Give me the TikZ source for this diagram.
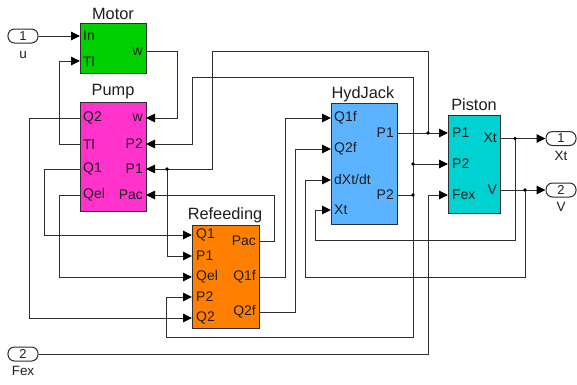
\documentclass[tikz,border=0pt]{standalone}
\usepackage{fontspec}
\setmainfont{Liberation Sans}
\usetikzlibrary{arrows.meta}
\definecolor{wirec}{HTML}{2E2E2E}
\definecolor{textc}{HTML}{1E1E1E}
\definecolor{motorc}{HTML}{00D000}
\definecolor{pumpc}{HTML}{FF33CC}
\definecolor{refeedc}{HTML}{FF8000}
\definecolor{jackc}{HTML}{5CB3FF}
\definecolor{pistonc}{HTML}{00D2D2}
\tikzset{
  blockbox/.style={draw=wirec,line width=1bp,anchor=north west,inner sep=0pt,minimum width=#1},
  title/.style={font=\fontsize{16.4}{17}\selectfont,text=textc,inner sep=0pt},
  portl/.style={font=\fontsize{14}{15}\selectfont,text=textc,inner sep=0pt,anchor=west},
  portr/.style={font=\fontsize{14}{15}\selectfont,text=textc,inner sep=0pt,anchor=east},
  iolabel/.style={font=\fontsize{13.5}{14}\selectfont,text=textc,inner sep=0pt},
  term/.style={draw=wirec,line width=1bp,rounded corners=6.5bp,minimum width=30bp,minimum height=14bp,inner sep=0pt,fill=white,font=\fontsize{13}{14}\selectfont,text=textc},
  wire/.style={draw=wirec,line width=1bp},
  arrowwire/.style={wire,-{Triangle[length=9bp,width=8.5bp,color=black]}},
  junction/.style={circle,fill=black,inner sep=0pt,minimum size=3.6bp}
}
\begin{document}
\begin{tikzpicture}[x=1bp,y=-1bp]
\useasboundingbox (0,0) rectangle (577,384);
% blocks
\node[blockbox=66bp,minimum height=50bp,fill=motorc] (motor) at (80,23) {};
\node[blockbox=66bp,minimum height=109.5bp,fill=pumpc] (pump) at (80,101.5) {};
\node[blockbox=67bp,minimum height=103bp,fill=refeedc] (refeed) at (192,225) {};
\node[blockbox=66bp,minimum height=121bp,fill=jackc] (jack) at (331,103) {};
\node[blockbox=52bp,minimum height=98bp,fill=pistonc] (piston) at (448,115) {};
% titles
\node[title] (tmotor) at (113,14) {Motor};
\node[title] (tpump) at (113,92) {Pump};
\node[title] (trefeed) at (225,215) {Refeeding};
\node[title] (tjack) at (363,94) {HydJack};
\node[title] (tpiston) at (474,105) {Piston};
% terminals
\node[term] (u) at (23,36) {1};
\node[term] (fex) at (23,354) {2};
\node[term] (xt) at (561,138.5) {1};
\node[term] (v) at (561,190) {2};
\node[iolabel] (lu) at (23,55) {u};
\node[iolabel] (lfex) at (23,371) {Fex};
\node[iolabel] (lxt) at (561,156) {Xt};
\node[iolabel] (lv) at (561,207) {V};
% port labels
\node[portl] (mIn) at (83,36) {In};
\node[portl] (mTl) at (83,61) {Tl};
\node[portr] (mw) at (143,51.5) {w};
\node[portl] (pQ2) at (83,118) {Q2};
\node[portl] (pTl) at (83,144) {Tl};
\node[portl] (pQ1) at (83,169) {Q1};
\node[portl] (pQel) at (83,195) {Qel};
\node[portr] (pw) at (143,118) {w};
\node[portr] (pP2) at (143,144) {P2};
\node[portr] (pP1) at (143,169) {P1};
\node[portr] (pPac) at (143,195) {Pac};
\node[portl] (rQ1) at (196,235) {Q1};
\node[portl] (rP1) at (196,256) {P1};
\node[portl] (rQel) at (196,277) {Qel};
\node[portl] (rP2) at (196,297) {P2};
\node[portl] (rQ2) at (196,318) {Q2};
\node[portr] (rPac) at (256,241) {Pac};
\node[portr] (rQ1f) at (256,277) {Q1f};
\node[portr] (rQ2f) at (256,312) {Q2f};
\node[portl] (jQ1f) at (334,118) {Q1f};
\node[portl] (jQ2f) at (334,149) {Q2f};
\node[portl] (jdXt) at (334,180) {dXt/dt};
\node[portl] (jXt) at (334,210) {Xt};
\node[portr] (jP1) at (394,133) {P1};
\node[portr] (jP2) at (394,195) {P2};
\node[portl] (sP1) at (452,133) {P1};
\node[portl] (sP2) at (452,164) {P2};
\node[portl] (sFex) at (452,195) {Fex};
\node[portr] (sXt) at (497,138) {Xt};
\node[portr] (sV) at (497,190) {V};
% port coordinates
\foreach \n/\x/\y in {
 aIn/80/36, aTl/80/61, aw/146/51.5,
 bQ2/80/118, bTl/80/144, bQ1/80/169, bQel/80/195, bw/146/118, bP2/146/144, bP1/146/169, bPac/146/195,
 cQ1/192/235, cP1/192/256, cQel/192/277, cP2/192/297, cQ2/192/318, cPac/259/241, cQ1f/259/277, cQ2f/259/312,
 dQ1f/331/118, dQ2f/331/149, ddXt/331/180, dXt/331/210, dP1/397/133, dP2/397/195,
 eP1/448/133, eP2/448/164, eFex/448/195, eXt/500/138.5, eV/500/190,
 jA/428/133, jB/413/164, jC/413/195, jD/167/169, jE/515/138.5, jF/525/190}
 {\coordinate (\n) at (\x,\y);}
% wires
\draw[arrowwire] (u.east) -- (aIn);
\draw[arrowwire] (bTl) -- (59,144) -- (59,61) -- (aTl);
\draw[arrowwire] (aw) -- (177,51.5) -- (177,118) -- (bw);
\draw[arrowwire] (bQ2) -- (29,118) -- (29,318) -- (cQ2);
\draw[arrowwire] (bQ1) -- (44,169) -- (44,235) -- (cQ1);
\draw[arrowwire] (bQel) -- (59,195) -- (59,277) -- (cQel);
\draw[arrowwire] (cPac) -- (274,241) -- (274,195) -- (bPac);
\draw[arrowwire] (jA) -- (428,51.5) -- (212.5,51.5) -- (212.5,169) -- (bP1);
\draw[arrowwire] (jC) -- (413,77) -- (192,77) -- (192,144) -- (bP2);
\draw[arrowwire] (jC) -- (413,337.5) -- (166.5,337.5) -- (166.5,297) -- (cP2);
\draw[arrowwire] (jD) -- (167,256) -- (cP1);
\draw[arrowwire] (cQ1f) -- (285,277) -- (285,118) -- (dQ1f);
\draw[arrowwire] (cQ2f) -- (295,312) -- (295,149) -- (dQ2f);
\draw[arrowwire] (jF) -- (525,277) -- (305,277) -- (305,180) -- (ddXt);
\draw[arrowwire] (jE) -- (515,240.5) -- (315,240.5) -- (315,210) -- (dXt);
\draw[arrowwire] (dP1) -- (eP1);
\draw[wire] (dP2) -- (jC);
\draw[arrowwire] (jB) -- (eP2);
\draw[arrowwire] (fex.east) -- (428,354) -- (428,195) -- (eFex);
\draw[arrowwire] (eXt) -- (xt.west);
\draw[arrowwire] (eV) -- (v.west);
% junctions
\node[junction] (n1) at (jA) {};
\node[junction] (n2) at (jB) {};
\node[junction] (n3) at (jC) {};
\node[junction] (n4) at (jD) {};
\node[junction] (n5) at (jE) {};
\node[junction] (n6) at (jF) {};
\end{tikzpicture}
\end{document}
